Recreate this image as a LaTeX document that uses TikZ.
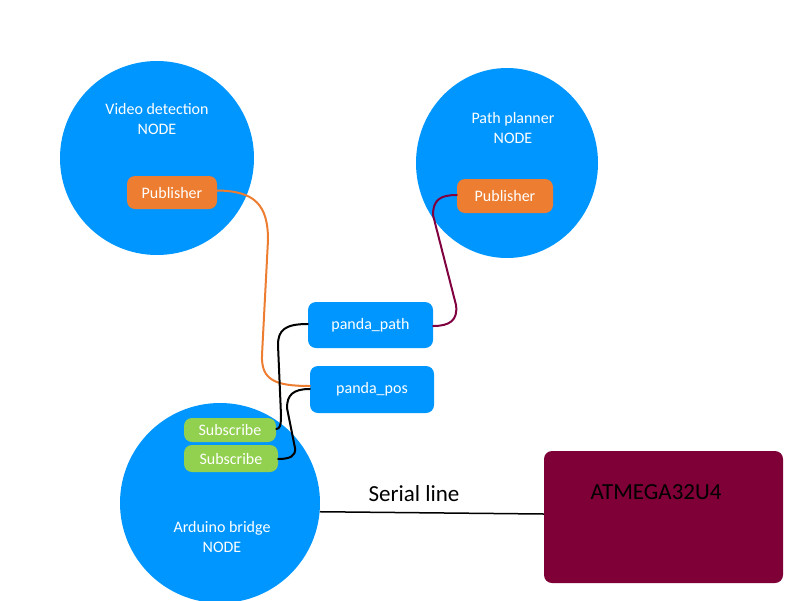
\documentclass[tikz,border=0pt]{standalone}
\usepackage{fontspec}
\setmainfont{Carlito}
\usetikzlibrary{shapes.geometric}
\definecolor{nodeblue}{RGB}{0,150,255}
\definecolor{puborange}{RGB}{237,125,49}
\definecolor{subgreen}{RGB}{146,208,80}
\definecolor{mcumaroon}{RGB}{127,0,55}
\definecolor{linemaroon}{RGB}{128,0,64}
\begin{document}
\begin{tikzpicture}[x=1pt,y=-1pt,
  rosnode/.style={ellipse, fill=nodeblue, inner sep=0pt},
  nodetext/.style={text=white, align=center, font=\fontsize{16}{20}\selectfont, inner sep=0pt},
  boxbase/.style={rectangle, rounded corners=8pt, inner sep=0pt, text=white, font=\fontsize{16}{20}\selectfont},
  pubbox/.style={boxbase, fill=puborange},
  subbox/.style={boxbase, fill=subgreen},
  topicbox/.style={boxbase, fill=nodeblue},
  mcubox/.style={rectangle, rounded corners=8pt, fill=mcumaroon, inner sep=0pt},
  bigtext/.style={text=black, font=\fontsize{23}{27}\selectfont, inner sep=0pt},
  wire/.style={line width=2pt, line cap=round}
]
\useasboundingbox (0,0) rectangle (800,600);

% ROS nodes
\node[rosnode, minimum width=194, minimum height=194] (vd) at (157,158) {};
\node[rosnode, minimum width=182, minimum height=190] (pp) at (507,163) {};
\node[rosnode, minimum width=200, minimum height=200] (ab) at (220,503) {};

\node[nodetext] (vdtext) at (157,119) {Video detection\\NODE};
\node[nodetext] (pptext) at (513,128) {Path planner\\NODE};
\node[nodetext] (abtext) at (222,537) {Arduino bridge\\NODE};

% boxes
\node[pubbox, minimum width=90, minimum height=33] (pub1) at (172,192.5) {Publisher};
\node[pubbox, minimum width=96, minimum height=34] (pub2) at (505,196) {Publisher};
\node[topicbox, minimum width=125, minimum height=46] (path) at (370.5,325) {panda\_path};
\node[topicbox, minimum width=124, minimum height=47] (pos) at (372,389.5) {panda\_pos};
\node[subbox, minimum width=92, minimum height=24] (subA) at (230,430) {Subscribe};
\node[subbox, minimum width=94, minimum height=27] (subB) at (231,458.5) {Subscribe};

\node[mcubox, minimum width=239, minimum height=132] (atm) at (663.5,517) {};
\node[bigtext] (atmtext) at (656,492) {ATMEGA32U4};

% connectors
\draw[wire, puborange] ([yshift=2pt]pub1.east) .. controls (255,191) and (268,205) .. (268,240)
   -- (262,355) .. controls (261,380) and (275,386) .. ([yshift=3.5pt]pos.west);
\draw[wire, linemaroon] ([yshift=1pt]pub2.west) .. controls (440,195) and (433,200) .. (433,215)
   -- (456,305) .. controls (458,320) and (450,326) .. ([yshift=-1pt]path.east);
\draw[wire, black] ([yshift=1pt]path.west) .. controls (285,324) and (278,330) .. (278,345)
   -- (281,415) .. controls (281,425) and (280,429) .. ([yshift=1pt]subA.east);
\draw[wire, black] ([yshift=0.5pt]pos.west) .. controls (293,389) and (287,395) .. (287,408)
   -- (295,448) .. controls (296,456) and (290,459) .. ([yshift=-0.5pt]subB.east);

\draw[line width=1.5pt, black] (ab.-5) -- ([yshift=3pt]atm.west);
\node[bigtext] (serial) at (414,494) {Serial line};
\end{tikzpicture}
\end{document}
